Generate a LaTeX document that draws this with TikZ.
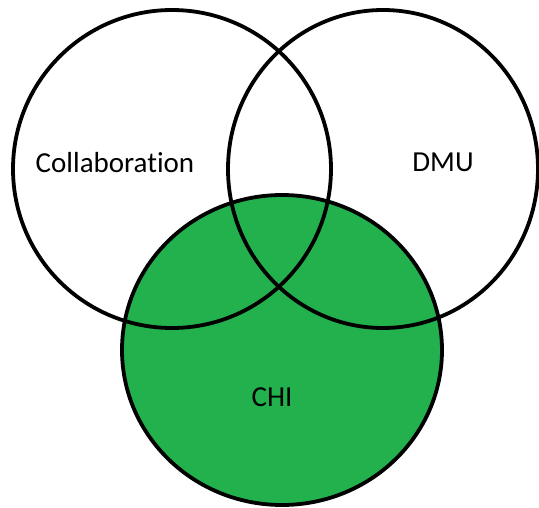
\documentclass[tikz,border=0pt]{standalone}
\usepackage{fontspec}
\setmainfont{Carlito}[Ligatures=NoCommon]
\usepackage{tikz}
\usetikzlibrary{shapes.geometric}

\definecolor{chigreen}{RGB}{34,177,76}

\begin{document}
\begin{tikzpicture}[x=1pt, y=-1pt,
    set/.style={ellipse, draw=black, line width=3.8pt, inner sep=0pt},
    setlabel/.style={anchor=base, font=\fontsize{29}{35}\selectfont}]
    \clip (0,0) rectangle (539,508);

    % Sets {chi, collab, dmu}
    \node [set, fill=chigreen, minimum width=320pt, minimum height=310pt] (chi)    at (282,350) {};
    \node [set, minimum width=318pt, minimum height=318pt]                (collab) at (172,169) {};
    \node [set, minimum width=310pt, minimum height=318pt]                (dmu)    at (383,169) {};

    % Labels
    \node [setlabel] (lcollab) at (115,173) {Collaboration};
    \node [setlabel] (ldmu)    at (443,172) {DMU};
    \node [setlabel] (lchi)    at (272,406) {CHI};

\end{tikzpicture}
\end{document}
